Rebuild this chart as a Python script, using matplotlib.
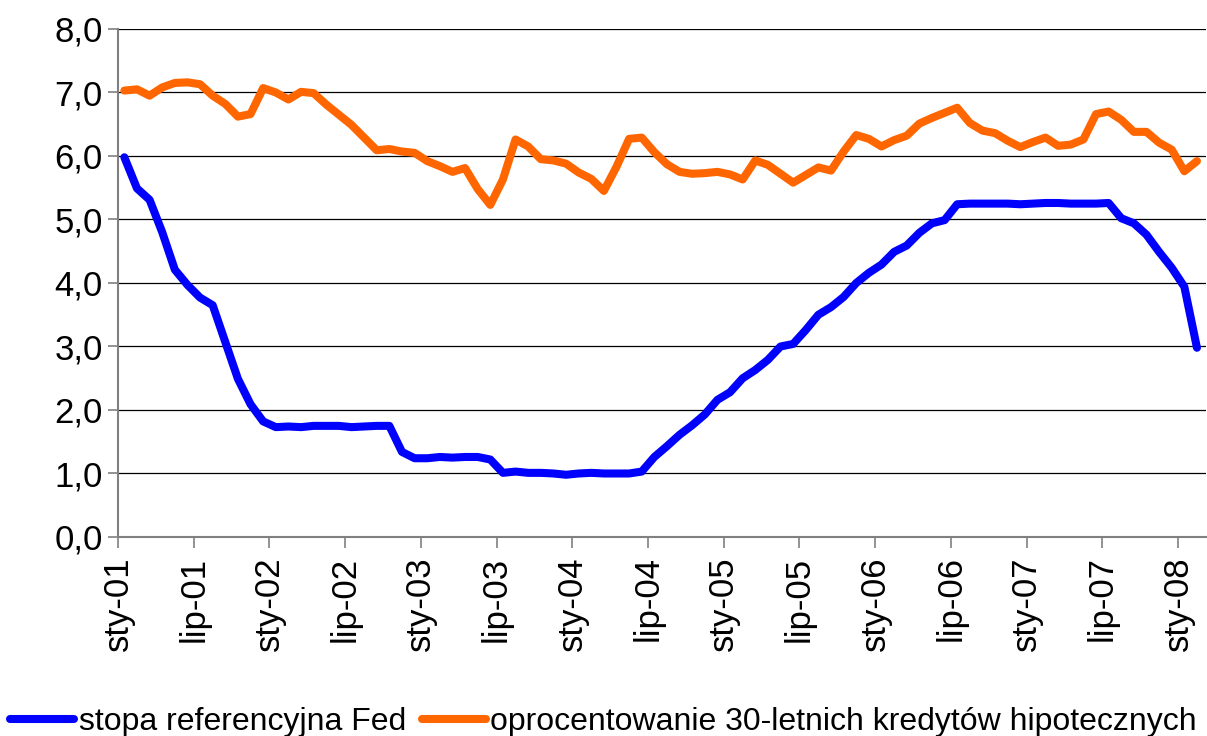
import numpy as np
import matplotlib
matplotlib.use('Agg')
import matplotlib.pyplot as plt

plt.rcParams['font.family'] = ['Liberation Sans', 'DejaVu Sans']

# monthly data, Jan 2001 - Feb 2008
fed_rate = [
    5.98, 5.49, 5.31, 4.80, 4.21, 3.97, 3.77, 3.65, 3.07, 2.49, 2.09, 1.82,
    1.73, 1.74, 1.73, 1.75, 1.75, 1.75, 1.73, 1.74, 1.75, 1.75, 1.34, 1.24,
    1.24, 1.26, 1.25, 1.26, 1.26, 1.22, 1.01, 1.03, 1.01, 1.01, 1.00, 0.98,
    1.00, 1.01, 1.00, 1.00, 1.00, 1.03, 1.26, 1.43, 1.61, 1.76, 1.93, 2.16,
    2.28, 2.50, 2.63, 2.79, 3.00, 3.04, 3.26, 3.50, 3.62, 3.78, 4.00, 4.16,
    4.29, 4.49, 4.59, 4.79, 4.94, 4.99, 5.24, 5.25, 5.25, 5.25, 5.25, 5.24,
    5.25, 5.26, 5.26, 5.25, 5.25, 5.25, 5.26, 5.02, 4.94, 4.76, 4.49, 4.24,
    3.94, 2.98,
]
mortgage_30y = [
    7.03, 7.05, 6.95, 7.08, 7.15, 7.16, 7.13, 6.95, 6.82, 6.62, 6.66, 7.07,
    7.00, 6.89, 7.01, 6.99, 6.81, 6.65, 6.49, 6.29, 6.09, 6.11, 6.07, 6.05,
    5.92, 5.84, 5.75, 5.81, 5.48, 5.23, 5.63, 6.26, 6.15, 5.95, 5.93, 5.88,
    5.74, 5.64, 5.45, 5.83, 6.27, 6.29, 6.06, 5.87, 5.75, 5.72, 5.73, 5.75,
    5.71, 5.63, 5.93, 5.86, 5.72, 5.58, 5.70, 5.82, 5.77, 6.07, 6.33, 6.27,
    6.15, 6.25, 6.32, 6.51, 6.60, 6.68, 6.76, 6.52, 6.40, 6.36, 6.24, 6.14,
    6.22, 6.29, 6.16, 6.18, 6.26, 6.66, 6.70, 6.57, 6.38, 6.38, 6.21, 6.10,
    5.76, 5.92,
]
tick_labels = ['sty-01', 'lip-01', 'sty-02', 'lip-02', 'sty-03', 'lip-03',
               'sty-04', 'lip-04', 'sty-05', 'lip-05', 'sty-06', 'lip-06',
               'sty-07', 'lip-07', 'sty-08']
series_names = ['stopa referencyjna Fed',
                'oprocentowanie 30-letnich kredytów hipotecznych']

# points sit mid-month
months = np.arange(len(fed_rate)) + 0.5

fig = plt.figure(figsize=(12.07, 7.36), dpi=100)
ax = fig.add_axes([0.0978, 0.2704, 0.9012, 0.6902])

ax.plot(months, fed_rate, color='#0000FF', lw=5.8, solid_capstyle='round',
        solid_joinstyle='round', label=series_names[0], zorder=3)
ax.plot(months, mortgage_30y, color='#FF6600', lw=5.8, solid_capstyle='round',
        solid_joinstyle='round', label=series_names[1], zorder=3)

ax.set_ylim(0, 8)
ax.set_yticks(np.arange(0, 9, 1))
ax.set_yticklabels([f'{v:.1f}'.replace('.', ',') for v in range(9)])
ax.yaxis.grid(True, color='#000000', lw=0.9)
ax.set_axisbelow(True)

ax.set_xlim(0, 86.2)
ax.set_xticks(np.arange(0, 6 * len(tick_labels), 6))
ax.set_xticklabels(tick_labels, rotation=90)

for side in ['top', 'right']:
    ax.spines[side].set_visible(False)
for side in ['left', 'bottom']:
    ax.spines[side].set_color('#808080')
    ax.spines[side].set_linewidth(1.5)

ax.tick_params(axis='y', labelsize=25, length=7, width=1.2, color='#808080', pad=4)
ax.tick_params(axis='x', labelsize=25, length=8, width=1.2, color='#808080', pad=6)

fig.legend(loc='lower center', bbox_to_anchor=(0.5, -0.04), ncol=2, frameon=False,
           fontsize=23, handlelength=2.0, handletextpad=0.15, columnspacing=0.5)

plt.savefig('out.png', dpi=100)
